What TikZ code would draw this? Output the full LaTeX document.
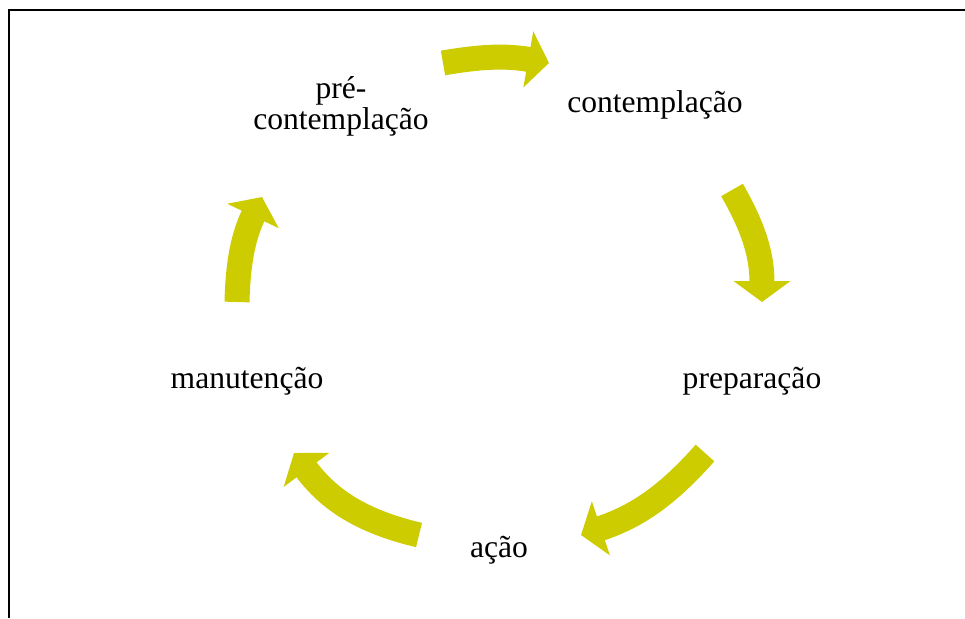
\documentclass[tikz,border=0pt]{standalone}
\usepackage{fontspec}
\setmainfont{Liberation Serif}
\usetikzlibrary{arrows.meta}
\definecolor{stageyellow}{RGB}{204,204,0}
\def\stagearrow(#1,#2,#3){
  \draw [line width=12.5pt, stageyellow, -{Triangle[length=10.5pt, width=28pt]}] (#1) to[bend left=#3] (#2);
}

\begin{document}
\begin{tikzpicture}[x=0.5pt, y=0.5pt, font=\fontsize{15.8}{15.5}\selectfont]
\useasboundingbox (0,0) rectangle (965,-618);
\draw [line width=1pt] (8.5,-618) -- (8.5,-9.5) -- (965,-9.5);
\node[align=center, inner sep=0pt] (precont) at (341,-106) {pré-\\contemplação};
\node[anchor=base, inner sep=0pt] (cont) at (655,-112) {contemplação};
\node[anchor=base, inner sep=0pt] (prep) at (752,-388) {preparação};
\node[anchor=base, inner sep=0pt] (acao) at (499,-557) {ação};
\node[anchor=base, inner sep=0pt] (manut) at (247,-388) {manutenção};
\coordinate (a1s) at (443,-63);  \coordinate (a1e) at (549,-63);
\coordinate (a2s) at (732,-190); \coordinate (a2e) at (762,-302);
\coordinate (a3s) at (705,-453); \coordinate (a3e) at (581,-535);
\coordinate (a4s) at (419,-535); \coordinate (a4e) at (294,-453);
\coordinate (a5s) at (237,-302); \coordinate (a5e) at (262,-197);
\stagearrow(a1s,a1e,10)
\stagearrow(a2s,a2e,15)
\stagearrow(a3s,a3e,15)
\stagearrow(a4s,a4e,20)
\stagearrow(a5s,a5e,12)
\end{tikzpicture}
\end{document}
